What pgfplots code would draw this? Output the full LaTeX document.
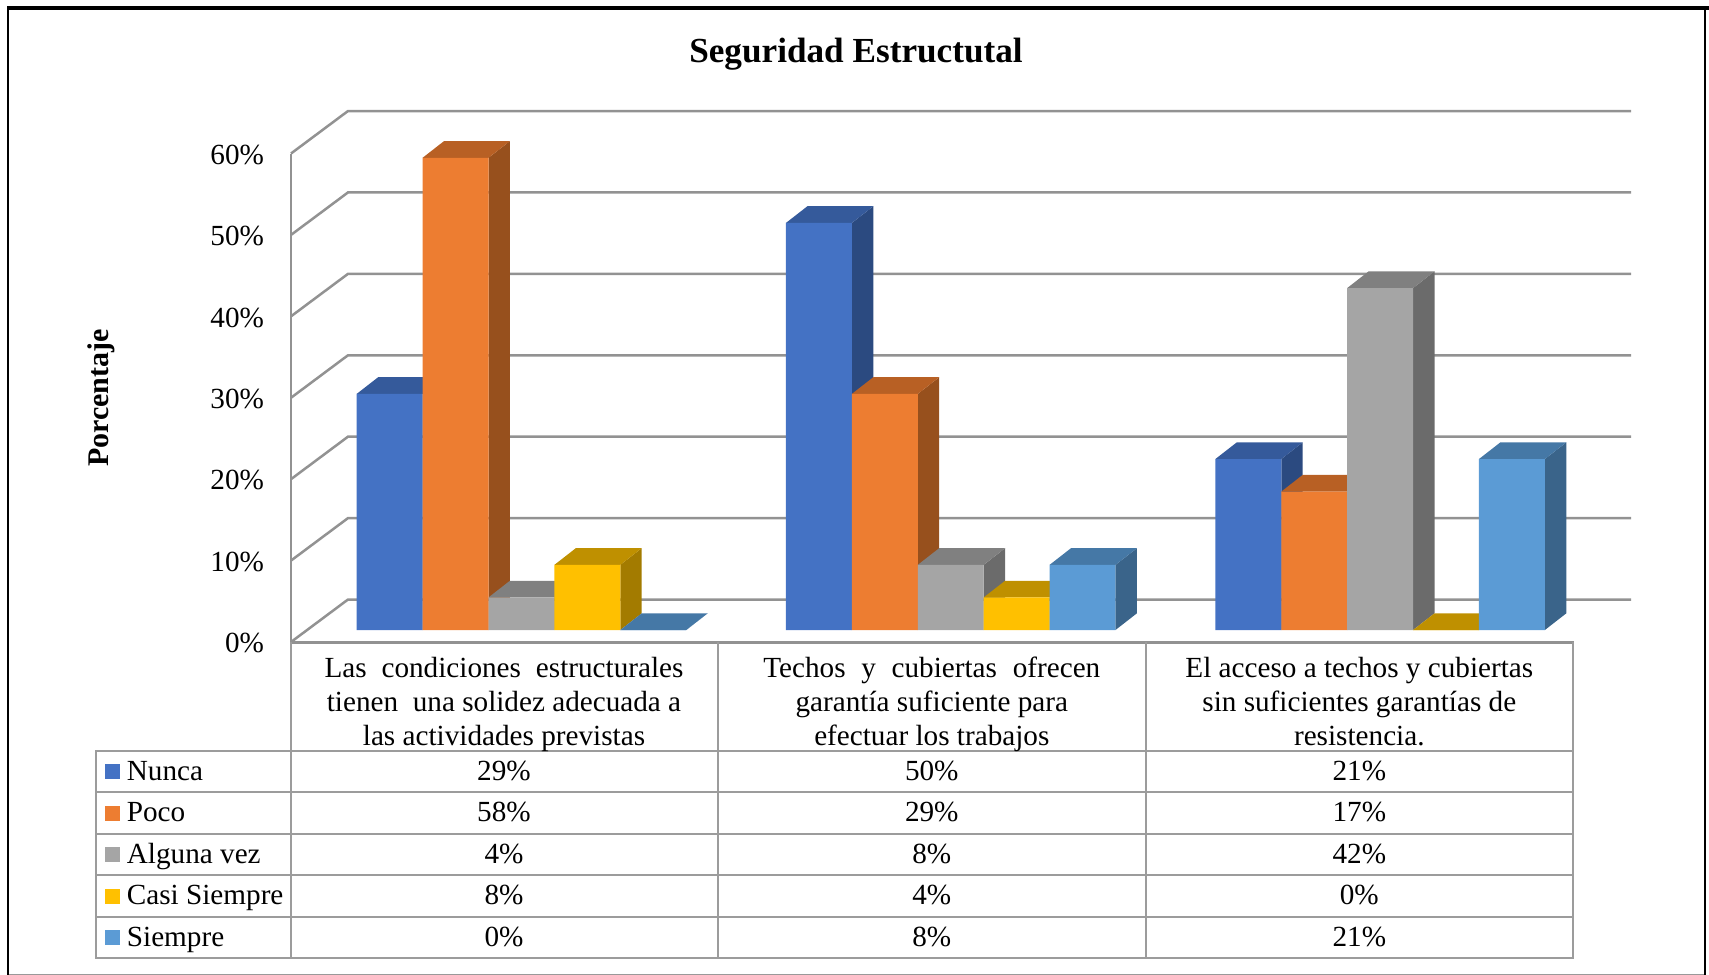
\documentclass[border=0pt]{standalone}
\usepackage{fontspec}
\setmainfont{Liberation Serif}
\usepackage{pgfplots}
\pgfplotsset{compat=1.18}

\definecolor{cNunca}{HTML}{4472C4}
\definecolor{cNuncaT}{HTML}{355A9B}
\definecolor{cNuncaS}{HTML}{2B4A80}
\definecolor{cPoco}{HTML}{ED7D31}
\definecolor{cPocoT}{HTML}{B86024}
\definecolor{cPocoS}{HTML}{97501D}
\definecolor{cAlguna}{HTML}{A5A5A5}
\definecolor{cAlgunaT}{HTML}{808080}
\definecolor{cAlgunaS}{HTML}{6B6B6B}
\definecolor{cCasi}{HTML}{FFC000}
\definecolor{cCasiT}{HTML}{BF9000}
\definecolor{cCasiS}{HTML}{A37B00}
\definecolor{cSiempre}{HTML}{5B9BD5}
\definecolor{cSiempreT}{HTML}{4578A6}
\definecolor{cSiempreS}{HTML}{3A648A}
\definecolor{wallgrey}{HTML}{929292}
\definecolor{tablegrey}{HTML}{9C9C9C}

% Depth of a bar in axis units: one x unit is one bar width
\def\depthx{0.325}
\def\depthy{2.05}
% Left edges of the three category groups
\def\gA{0}
\def\gB{6.514}
\def\gC{13.03}

% Side and top faces of one bar: left edge, value, top colour, side colour
\newcommand{\boxfaces}[4]{%
  \pgfmathsetmacro{\xr}{#1+1}%
  \pgfmathsetmacro{\xd}{#1+\depthx}%
  \pgfmathsetmacro{\xe}{#1+1+\depthx}%
  \pgfmathsetmacro{\yt}{#2+\depthy}%
  \edef\temp{%
    \noexpand\addplot[fill=#4,draw=none] coordinates {(\xr,0)(\xr,#2)(\xe,\yt)(\xe,\depthy)};
    \noexpand\addplot[fill=#3,draw=none] coordinates {(#1,#2)(\xr,#2)(\xe,\yt)(\xd,\yt)};
  }\temp}

% One series across the three groups: slot in the group, three values, colours
\newcommand{\barseries}[7]{%
  \pgfmathsetmacro{\la}{\gA+#1}%
  \pgfmathsetmacro{\lb}{\gB+#1}%
  \pgfmathsetmacro{\lc}{\gC+#1}%
  \boxfaces{\la}{#2}{#6}{#7}%
  \boxfaces{\lb}{#3}{#6}{#7}%
  \boxfaces{\lc}{#4}{#6}{#7}%
  \pgfmathsetmacro{\ca}{\la+0.5}%
  \pgfmathsetmacro{\cb}{\lb+0.5}%
  \pgfmathsetmacro{\cc}{\lc+0.5}%
  \edef\temp{%
    \noexpand\addplot[ybar,bar width=1,bar shift=0pt,fill=#5,draw=none]
      coordinates {(\ca,#2)(\cb,#3)(\cc,#4)};
  }\temp}

\newcommand{\bodyfont}{\fontsize{14.6}{17}\selectfont}
\newcommand{\cell}[3]{\node[anchor=base,inner sep=0pt] at (#1,#2) {\bodyfont #3};}
% A table row: baseline, colour, name and the three values
\newcommand{\tablerow}[6]{%
  \fill[#2] (105,#1-16) rectangle (120,#1-1);
  \node[anchor=base west,inner sep=0pt] at (126.5,#1) {\bodyfont #3};
  \cell{504}{#1}{#4}
  \cell{931.8}{#1}{#5}
  \cell{1359.3}{#1}{#6}
}

\begin{document}
\begin{tikzpicture}[x=0.5pt,y=-0.5pt]
\useasboundingbox (0,0) rectangle (1709,975);
\coordinate (wallorigin) at (291,642);
\coordinate (barorigin) at (356.7,630);

% Outer frame
\draw[black!40,line width=0.5pt] (8,974.5) -- (1705,974.5);
\fill[black] (7,6) rectangle (1709,9.5);
\fill[black] (7,6) rectangle (9,975);
\fill[black] (1704,6) rectangle (1706,975);

% Title and vertical label
\node[anchor=base,inner sep=0pt] at (856,62) {\fontsize{17.6}{20}\selectfont\bfseries Seguridad Estructutal};
\node[rotate=90,inner sep=0pt] at (101,398) {\fontsize{15}{18}\selectfont\bfseries Porcentaje};

% Walls of the plot, with the percentage scale
\begin{axis}[
  at={(wallorigin)},anchor=south west,
  scale only axis,width=670pt,height=244.25pt,
  xmin=291,xmax=1631,ymin=0,ymax=60,
  clip=false,
  axis x line=none,
  axis y line=left,
  y axis line style={draw=none},
  xtick=\empty,
  ytick={0,10,...,60},
  major tick length=0pt,
  yticklabel style={font=\bodyfont,xshift=-10pt,yshift=-0.6pt},
  /pgf/number format/assume math mode=true,
  yticklabel={\pgfmathprintnumber{\tick}\%},
]
  \addplot[wallgrey,line width=1.25pt] coordinates {(291,0)(291,60)};
  \addplot[wallgrey,line width=1.25pt] coordinates {(291,0)(348,5.22)(1631,5.22)};
  \addplot[wallgrey,line width=1.25pt] coordinates {(291,10)(348,15.22)(1631,15.22)};
  \addplot[wallgrey,line width=1.25pt] coordinates {(291,20)(348,25.22)(1631,25.22)};
  \addplot[wallgrey,line width=1.25pt] coordinates {(291,30)(348,35.22)(1631,35.22)};
  \addplot[wallgrey,line width=1.25pt] coordinates {(291,40)(348,45.22)(1631,45.22)};
  \addplot[wallgrey,line width=1.25pt] coordinates {(291,50)(348,55.22)(1631,55.22)};
  \addplot[wallgrey,line width=1.25pt] coordinates {(291,60)(348,65.22)(1631,65.22)};
\end{axis}

% Bars, drawn left to right so each front hides the side before it
\begin{axis}[
  at={(barorigin)},anchor=south west,
  scale only axis,width=659pt,height=244.25pt,
  xmin=0,xmax=20,ymin=0,ymax=60,
  clip=false,
  hide axis,
]
  \barseries{0}{29}{50}{21}{cNunca}{cNuncaT}{cNuncaS}
  \barseries{1}{58}{29}{17}{cPoco}{cPocoT}{cPocoS}
  \barseries{2}{4}{8}{42}{cAlguna}{cAlgunaT}{cAlgunaS}
  \barseries{3}{8}{4}{0}{cCasi}{cCasiT}{cCasiS}
  \barseries{4}{0}{8}{21}{cSiempre}{cSiempreT}{cSiempreS}
\end{axis}

% Data table under the plot
\draw[wallgrey,line width=1.25pt] (291,642.5) -- (1574,642.5);
\draw[tablegrey,line width=1pt] (96,750.7) rectangle (1573,958.3);
\foreach \r in {792.3,833.7,875.3,916.7} \draw[tablegrey,line width=1pt] (96,\r) -- (1573,\r);
\draw[tablegrey,line width=1pt] (290.5,642) -- (290.5,958.3);
\draw[tablegrey,line width=1pt] (718,642) -- (718,958.3);
\draw[tablegrey,line width=1pt] (1145.6,642) -- (1145.6,958.3);
\draw[tablegrey,line width=1pt] (1573,642) -- (1573,958.3);

% Category names
\cell{504}{677}{\makebox[179.5pt][s]{Las condiciones estructurales}}
\cell{504}{711}{tienen\ \ una solidez adecuada a}
\cell{504}{745}{las actividades previstas}
\cell{931.8}{677}{\makebox[168.5pt][s]{Techos y cubiertas ofrecen}}
\cell{931.8}{711}{garantía suficiente para}
\cell{931.8}{745}{efectuar los trabajos}
\cell{1359.3}{677}{El acceso a techos y cubiertas}
\cell{1359.3}{711}{sin suficientes garantías de}
\cell{1359.3}{745}{resistencia.}

% Series names and values
\tablerow{780}{cNunca}{Nunca}{29\%}{50\%}{21\%}
\tablerow{821.5}{cPoco}{Poco}{58\%}{29\%}{17\%}
\tablerow{863}{cAlguna}{Alguna vez}{4\%}{8\%}{42\%}
\tablerow{904.5}{cCasi}{Casi Siempre}{8\%}{4\%}{0\%}
\tablerow{946}{cSiempre}{Siempre}{0\%}{8\%}{21\%}
\end{tikzpicture}
\end{document}
